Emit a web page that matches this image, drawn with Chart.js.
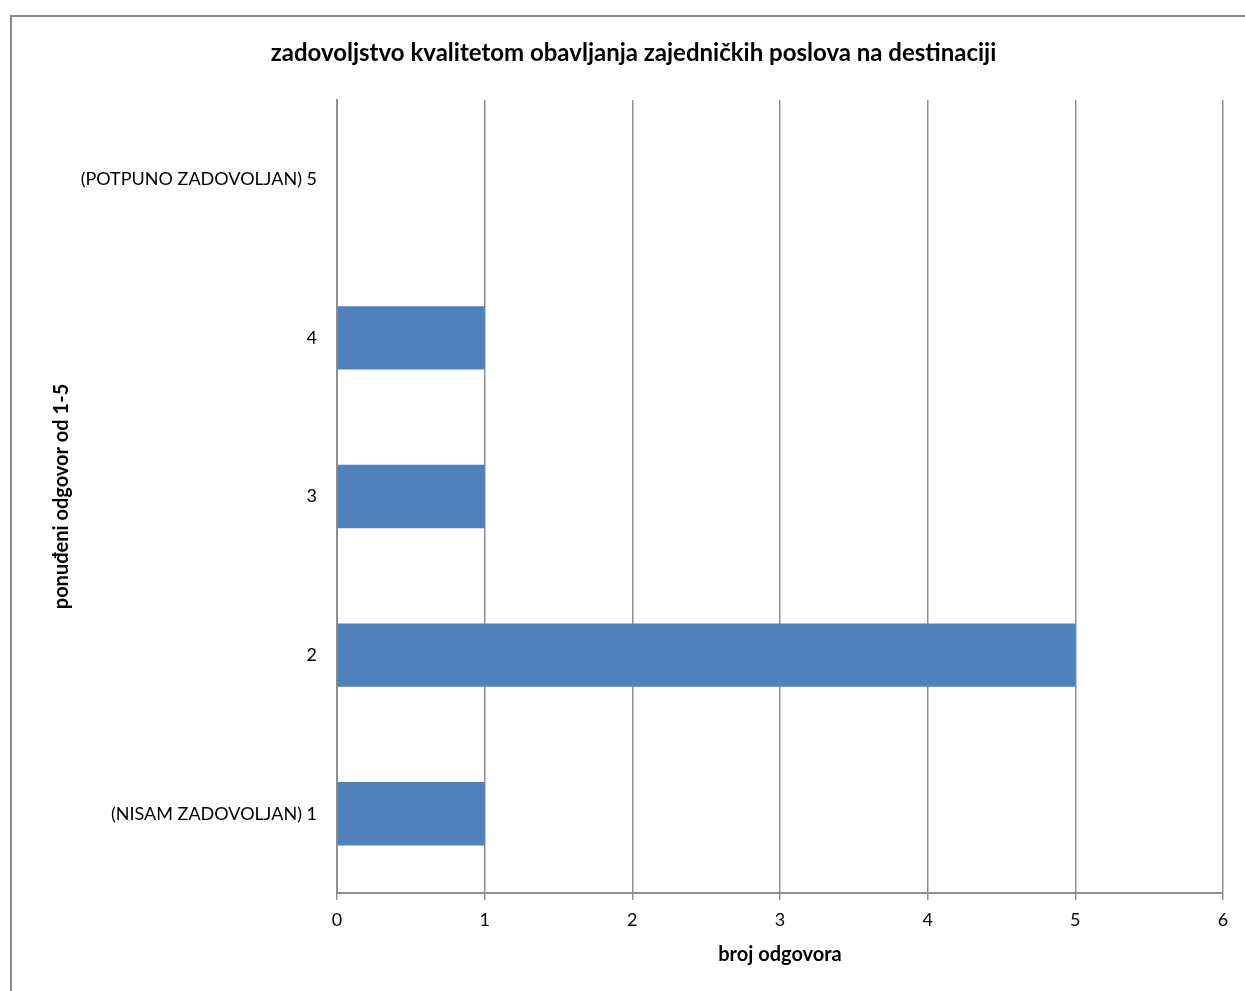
<!DOCTYPE html>
<html>
<head>
<meta charset="utf-8">
<script src="https://cdn.jsdelivr.net/npm/chart.js@4.4.0/dist/chart.umd.min.js"></script>
<style>
  html, body { margin: 0; padding: 0; background: #fff; }
  body { width: 1245px; height: 991px; position: relative; overflow: hidden; }
  #frame { position: absolute; left: 10px; top: 15px; width: 1300px; height: 1100px;
           border-left: 2px solid #8a8a8a; border-top: 2px solid #8a8a8a; box-sizing: border-box; }
  #wrap { position: absolute; left: 0; top: 0; width: 1245px; height: 991px; }
</style>
</head>
<body>
<div id="frame"></div>
<div id="wrap"><canvas id="chart" width="1245" height="991"></canvas></div>
<script>
// Response categories (bottom to top) and number of answers per category
const categories = ['(NISAM ZADOVOLJAN) 1', '2', '3', '4', '(POTPUNO ZADOVOLJAN) 5'];
const answers = [1, 5, 1, 1, 0];
const xTicks = [0, 1, 2, 3, 4, 5, 6];

const titleText = 'zadovoljstvo kvalitetom obavljanja zajedničkih poslova na destinaciji';
const xTitle = 'broj odgovora';
const yTitle = 'ponuđeni odgovor od 1-5';

const FONT = 'Lato, "Open Sans", sans-serif';
const GRID = '#8e8e8e';

new Chart(document.getElementById('chart'), {
  type: 'bar',
  data: {
    labels: categories,
    datasets: [{
      data: answers,
      backgroundColor: '#4f81bd',
      borderWidth: 0,
      barPercentage: 0.4,
      categoryPercentage: 1.0
    }]
  },
  options: {
    indexAxis: 'y',
    responsive: false,
    animation: false,
    layout: { padding: { left: 44, right: 22, top: 0, bottom: 0 } },
    plugins: {
      legend: { display: false },
      tooltip: { enabled: false },
      title: {
        display: true,
        text: titleText,
        color: '#000',
        font: { family: FONT, size: 24, weight: 'bold', lineHeight: 1.2 },
        padding: { top: 38.6, bottom: 32.6 }
      }
    },
    scales: {
      x: {
        min: xTicks[0],
        max: xTicks[xTicks.length - 1],
        afterBuildTicks: (scale) => { scale.ticks = xTicks.map(v => ({ value: v })); },
        afterFit: (scale) => { scale.height = 991 - 893; },
        grid: { color: GRID, lineWidth: 1.5, tickLength: 7, drawTicks: true },
        border: { color: GRID, width: 2 },
        ticks: { color: '#000', font: { family: FONT, size: 18 }, padding: 9 },
        title: {
          display: true,
          text: xTitle,
          color: '#000',
          font: { family: FONT, size: 20, weight: 'bold', lineHeight: 1.2 },
          padding: { top: 0, bottom: 24 }
        }
      },
      y: {
        reverse: true,
        afterFit: (scale) => { scale.width = 337 - 44; },
        grid: { display: false, drawTicks: false },
        border: { color: GRID, width: 2 },
        ticks: { color: '#000', font: { family: FONT, size: 18 }, padding: 20 },
        title: {
          display: true,
          text: yTitle,
          color: '#000',
          font: { family: FONT, size: 20, weight: 'bold', lineHeight: 1.2 },
          padding: { top: 6, bottom: 0 }
        }
      }
    }
  }
});
</script>
</body>
</html>
